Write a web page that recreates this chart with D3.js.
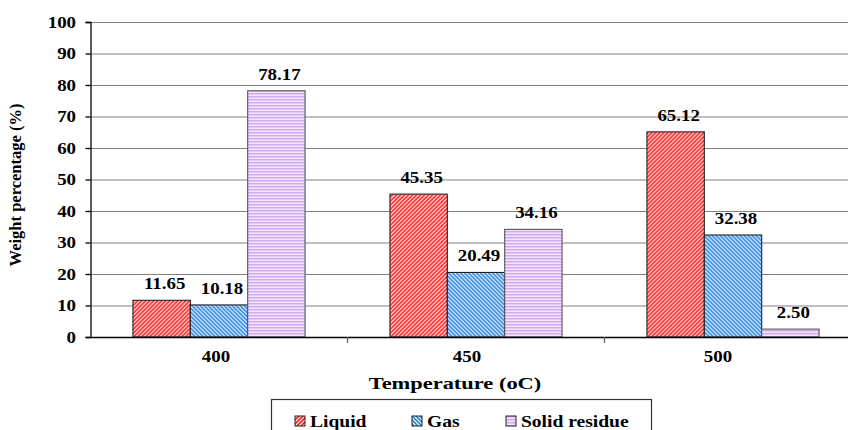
<!DOCTYPE html>
<html>
<head>
<meta charset="utf-8">
<script src="https://cdn.jsdelivr.net/npm/d3@7"></script>
<style>
  html, body { margin: 0; padding: 0; background: #fff; }
  svg { display: block; }
</style>
</head>
<body>
<svg id="chart" width="848" height="430" font-family="Liberation Serif, DejaVu Serif, serif" font-weight="bold"></svg>
<script>
// Product yields by pyrolysis temperature
const temperatures = ["400", "450", "500"];
const seriesNames = ["Liquid", "Gas", "Solid residue"];
const liquid = [11.65, 45.35, 65.12];
const gas = [10.18, 20.49, 32.38];
const solidResidue = [78.17, 34.16, 2.50];
const yTicks = [0, 10, 20, 30, 40, 50, 60, 70, 80, 90, 100];

const seriesValues = [liquid, gas, solidResidue];
const rows = temperatures.map((t, i) => ({
  temp: t,
  values: seriesNames.map((s, j) => ({ key: s, value: seriesValues[j][i] }))
}));

const svg = d3.select("#chart");
const plot = { left: 90.5, right: 861.5, top: 22, bottom: 337 };
const FONT = "Liberation Serif, DejaVu Serif, serif";

// Fill patterns: pixel-aligned diagonal hatching and horizontal banding
const defs = svg.append("defs");
function hatch(id, color, up) {
  const p = defs.append("pattern").attr("id", id)
    .attr("patternUnits", "userSpaceOnUse").attr("width", 4).attr("height", 4);
  p.append("rect").attr("width", 4).attr("height", 4).attr("fill", "#fff");
  const d = up ? "M-1,1 L1,-1 M0,4 L4,0 M3,5 L5,3" : "M-1,3 L1,5 M0,0 L4,4 M3,-1 L5,1";
  p.append("path").attr("d", d).attr("stroke", color).attr("stroke-width", 1.6);
}
hatch("pat-liquid", "#ff1a1a", true);
hatch("pat-gas", "#2a84e0", false);

const pSol = defs.append("pattern").attr("id", "pat-solid")
  .attr("patternUnits", "userSpaceOnUse").attr("width", 4).attr("height", 3);
pSol.append("rect").attr("width", 4).attr("height", 3).attr("fill", "#f3e6ff");
pSol.append("rect").attr("width", 4).attr("height", 1.5).attr("fill", "#d2a8f5");

const fills = { "Liquid": "url(#pat-liquid)", "Gas": "url(#pat-gas)", "Solid residue": "url(#pat-solid)" };
const strokes = { "Liquid": "#222", "Gas": "#222", "Solid residue": "#555" };

// Scales
const x0 = d3.scaleBand().domain(temperatures).range([plot.left, plot.right]).padding(0);
const x1 = d3.scaleBand().domain(seriesNames).range([0, x0.bandwidth()])
  .paddingInner(0).paddingOuter(0.74);
const y = d3.scaleLinear().domain([0, 100]).range([plot.bottom, plot.top]);
// category labels sit on a slightly tighter spacing than the bar groups
const xLabel = d3.scaleBand().domain(temperatures).range([plot.left, plot.left + 753]);

// bold serif text, widened horizontally by sx
function label(sel, x, yPos, size, sx) {
  return sel.attr("transform", `translate(${x},${yPos}) scale(${sx},1)`)
    .attr("font-family", FONT).attr("font-weight", "bold").attr("font-size", size).attr("fill", "#000");
}

// Gridlines
svg.append("g").selectAll("line").data(yTicks.filter(d => d > 0)).join("line")
  .attr("x1", plot.left).attr("x2", plot.right)
  .attr("y1", d => y(d) + 0.5).attr("y2", d => y(d) + 0.5)
  .attr("stroke", "#808080").attr("stroke-width", 1.2);

// Y axis
const yAxis = svg.append("g").attr("transform", `translate(${plot.left},0)`)
  .call(d3.axisLeft(y).tickValues(yTicks).tickSize(5).tickFormat(""));
yAxis.select(".domain").attr("stroke", "#000").attr("stroke-width", 1.3);
yAxis.selectAll(".tick line").attr("stroke", "#000").attr("stroke-width", 1.3);
svg.append("g").selectAll("text").data(yTicks).join("text")
  .each(function (d) { label(d3.select(this), 76, y(d) + 5.5, 16, 1.18); })
  .attr("text-anchor", "end").text(d => d);

// Bars
const groups = svg.append("g").selectAll("g").data(rows).join("g")
  .attr("transform", d => `translate(${x0(d.temp)},0)`);
groups.selectAll("rect").data(d => d.values).join("rect")
  .attr("x", d => x1(d.key)).attr("width", x1.bandwidth())
  .attr("y", d => y(d.value)).attr("height", d => y(0) - y(d.value))
  .attr("fill", d => fills[d.key]).attr("stroke", d => strokes[d.key]).attr("stroke-width", 1.1);
groups.selectAll("text").data(d => d.values).join("text")
  .each(function (d) { label(d3.select(this), x1(d.key) + x1.bandwidth() / 2 + 3, y(d.value) - 11, 16, 1.18); })
  .attr("text-anchor", "middle")
  .text(d => d.value.toFixed(2));

// X axis
svg.append("line").attr("x1", plot.left).attr("x2", plot.right)
  .attr("y1", plot.bottom + 0.5).attr("y2", plot.bottom + 0.5)
  .attr("stroke", "#000").attr("stroke-width", 1.4);
const bounds = temperatures.map(t => x0(t) + x0.bandwidth()).slice(0, -1);
svg.append("g").selectAll("line").data(bounds).join("line")
  .attr("x1", d => d).attr("x2", d => d)
  .attr("y1", plot.bottom).attr("y2", plot.bottom + 6)
  .attr("stroke", "#666").attr("stroke-width", 1.3);
svg.append("g").selectAll("text").data(temperatures).join("text")
  .each(function (d) { label(d3.select(this), xLabel(d) + xLabel.bandwidth() / 2, 362, 16, 1.18); })
  .attr("text-anchor", "middle").text(d => d);

// Axis titles
label(svg.append("text"), 455, 389, 17, 1.32)
  .attr("text-anchor", "middle").text("Temperature (oC)");
svg.append("text")
  .attr("transform", "translate(21,185) rotate(-90)")
  .attr("font-family", FONT).attr("font-weight", "bold").attr("font-size", 16.5)
  .attr("text-anchor", "middle").text("Weight percentage (%)");

// Legend
const legend = svg.append("g");
legend.append("rect").attr("x", 271.5).attr("y", 399.5).attr("width", 380).attr("height", 40)
  .attr("fill", "#fff").attr("stroke", "#333").attr("stroke-width", 1.2);
const legendX = [295, 412, 506];
const items = legend.selectAll("g").data(seriesNames).join("g")
  .attr("transform", (d, i) => `translate(${legendX[i]},416)`);
items.append("rect").attr("width", 10).attr("height", 10)
  .attr("fill", d => fills[d]).attr("stroke", "#222").attr("stroke-width", 1);
items.append("text").each(function () { label(d3.select(this), 15, 11, 17, 1.15); })
  .text(d => d);
</script>
</body>
</html>
